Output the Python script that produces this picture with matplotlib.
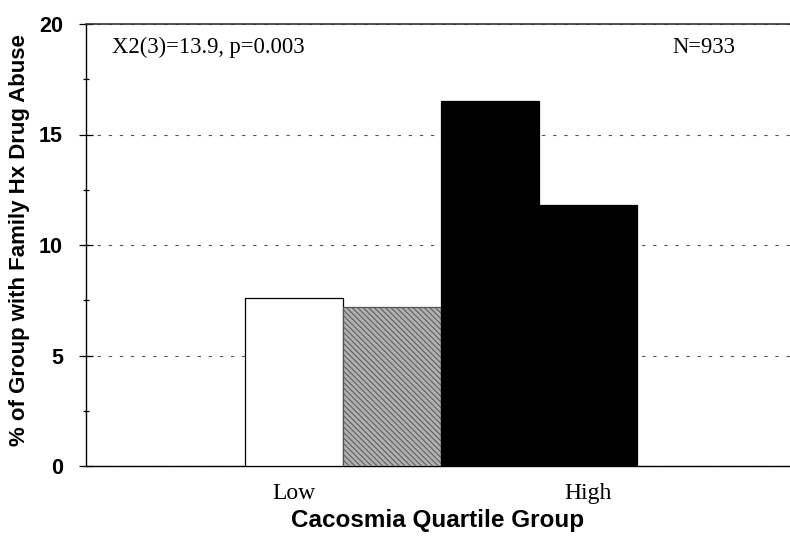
import matplotlib
matplotlib.use("Agg")
import matplotlib.pyplot as plt
from matplotlib.ticker import MultipleLocator

# Percent of each cacosmia quartile with a family history of drug abuse
quartiles = ["Q1", "Q2", "Q3", "Q4"]
pct_family_hx = [7.6, 7.2, 16.5, 11.8]
bar_faces = ["white", "#b0b0b0", "black", "black"]
tick_positions = [0, 3]
tick_labels = ["Low", "High"]
y_ticks = [0, 5, 10, 15, 20]

stat_text = "X2(3)=13.9, p=0.003"
n_text = "N=933"

plt.rcParams["hatch.linewidth"] = 0.7

fig = plt.figure(figsize=(7.9, 5.38), dpi=100)
ax = fig.add_axes([86 / 790, 1 - 466 / 538, 704 / 790, 442 / 538])

x = list(range(len(quartiles)))
bars = ax.bar(x, pct_family_hx, width=1.0, color=bar_faces,
              edgecolor="black", linewidth=0.9, zorder=3)
# fine diagonal texture on the second quartile
bars[1].set_hatch("\\\\\\\\\\\\")
bars[1].set_edgecolor("#555555")

ax.set_xlim(-2.12, 5.06)
ax.set_ylim(0, 20)

ax.set_yticks(y_ticks)
ax.yaxis.set_minor_locator(MultipleLocator(2.5))
ax.set_yticklabels([str(t) for t in y_ticks], fontsize=15.5,
                   fontweight="bold", family="Liberation Sans")
ax.tick_params(axis="y", which="major", direction="inout", length=10,
               width=0.9, pad=11.5)
ax.tick_params(axis="y", which="minor", direction="inout", length=4.5,
               width=0.9)

ax.set_xticks(tick_positions)
ax.set_xticklabels(tick_labels, fontsize=17, family="Liberation Serif")
ax.tick_params(axis="x", length=0, pad=12)

ax.yaxis.grid(True, which="major", color="#555555", linestyle=(0, (3, 7)),
              linewidth=0.8, zorder=0)
ax.set_axisbelow(True)

ax.spines["right"].set_visible(False)
ax.spines["top"].set_color("#333333")
ax.spines["top"].set_linewidth(1.2)
ax.spines["left"].set_linewidth(1.0)
ax.spines["bottom"].set_linewidth(1.0)

ax.set_ylabel("% of Group with Family Hx Drug Abuse", fontsize=16,
              fontweight="bold", family="Liberation Sans")
ax.yaxis.set_label_coords(-0.079, 0.511)
ax.set_xlabel("Cacosmia Quartile Group", fontsize=17.5, fontweight="bold",
              family="Liberation Sans", labelpad=4)

ax.text(0.037, 0.947, stat_text, transform=ax.transAxes, fontsize=16.3,
        family="Liberation Serif", ha="left", va="center")
ax.text(0.878, 0.947, n_text, transform=ax.transAxes, fontsize=16.3,
        family="Liberation Serif", ha="center", va="center")

fig.savefig("out.png", dpi=100)
